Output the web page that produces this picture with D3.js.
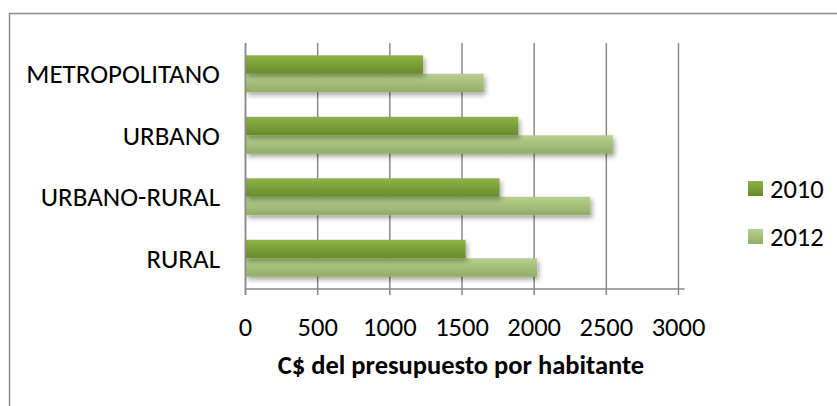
<!DOCTYPE html>
<html>
<head>
<meta charset="utf-8">
<script src="https://cdn.jsdelivr.net/npm/d3@7"></script>
<style>
  body { margin: 0; background: #fff; }
  text { font-family: Carlito, Lato, "Open Sans", sans-serif; fill: #000; }
</style>
</head>
<body>
<div id="chart"></div>
<script>
// Chart data
const categories = ["METROPOLITANO", "URBANO", "URBANO-RURAL", "RURAL"];
const seriesNames = ["2010", "2012"];
const values2010 = [1230, 1890, 1760, 1525];
const values2012 = [1650, 2545, 2390, 2020];
const xTicks = [0, 500, 1000, 1500, 2000, 2500, 3000];
const xTitle = "C$ del presupuesto por habitante";

const width = 837;
const height = 406;
const margin = { top: 43, left: 245.5, right: 159, bottom: 117 };

const svg = d3.select("#chart").append("svg")
    .attr("width", width)
    .attr("height", height);

const defs = svg.append("defs");

// Gradients for the two series
const gradStops = {
    "2010": ["#8db444", "#688a2e"],
    "2012": ["#b7d28c", "#93ab6b"]
};
seriesNames.forEach(name => {
    const lg = defs.append("linearGradient")
        .attr("id", "grad" + name)
        .attr("x1", 0).attr("y1", 0).attr("x2", 0).attr("y2", 1);
    lg.append("stop").attr("offset", "0%").attr("stop-color", gradStops[name][0]);
    lg.append("stop").attr("offset", "100%").attr("stop-color", gradStops[name][1]);
});

const shadow = defs.append("filter").attr("id", "shadow")
    .attr("x", "-5%").attr("y", "-20%").attr("width", "115%").attr("height", "160%");
shadow.append("feGaussianBlur").attr("in", "SourceAlpha").attr("stdDeviation", 2.5);
shadow.append("feOffset").attr("dx", 2).attr("dy", 3).attr("result", "b");
shadow.append("feComponentTransfer").append("feFuncA").attr("type", "linear").attr("slope", 0.35);
const merge = shadow.append("feMerge");
merge.append("feMergeNode");
merge.append("feMergeNode").attr("in", "SourceGraphic");

// Outer chart border
svg.append("rect")
    .attr("x", 9.5).attr("y", 13.5)
    .attr("width", 850).attr("height", 420)
    .attr("fill", "none")
    .attr("stroke", "#8c8c8c")
    .attr("stroke-width", 1.5);

const x = d3.scaleLinear()
    .domain([0, 3000])
    .range([margin.left, width - margin.right + 0.5]);

const y = d3.scaleBand()
    .domain(categories)
    .range([margin.top, height - margin.bottom])
    .paddingInner(0.4)
    .paddingOuter(0.2);

const ySub = d3.scaleBand()
    .domain(seriesNames)
    .range([0, y.bandwidth()]);

const plotBottom = height - margin.bottom;

// Vertical grid lines
svg.append("g")
    .selectAll("line")
    .data(xTicks)
    .join("line")
    .attr("x1", d => x(d)).attr("x2", d => x(d))
    .attr("y1", margin.top).attr("y2", plotBottom + 6)
    .attr("stroke", "#8a8a8a")
    .attr("stroke-width", 1.5);

// Bars
const rows = categories.map((c, i) => ({ cat: c, vals: [values2010[i], values2012[i]] }));
const groups = svg.append("g").selectAll("g")
    .data(rows)
    .join("g")
    .attr("transform", d => `translate(0,${y(d.cat)})`);

groups.selectAll("rect")
    .data(d => d.vals.map((v, j) => ({ name: seriesNames[j], value: v })).reverse())
    .join("rect")
    .attr("x", x(0))
    .attr("y", d => ySub(d.name))
    .attr("width", d => x(d.value) - x(0))
    .attr("height", ySub.bandwidth())
    .attr("fill", d => `url(#grad${d.name})`)
    .attr("filter", "url(#shadow)");

// Axis lines
svg.append("line")
    .attr("x1", x(0)).attr("x2", x(3000) + 6)
    .attr("y1", plotBottom).attr("y2", plotBottom)
    .attr("stroke", "#8a8a8a").attr("stroke-width", 1.5);
svg.append("line")
    .attr("x1", x(0)).attr("x2", x(0))
    .attr("y1", margin.top).attr("y2", plotBottom + 6)
    .attr("stroke", "#8a8a8a").attr("stroke-width", 1.5);

// Category labels
svg.append("g")
    .selectAll("text")
    .data(categories)
    .join("text")
    .attr("x", 220)
    .attr("y", d => y(d) + y.bandwidth() / 2)
    .attr("text-anchor", "end")
    .attr("dominant-baseline", "central")
    .style("font-size", "27px")
    .text(d => d);

// Tick labels
svg.append("g")
    .selectAll("text")
    .data(xTicks)
    .join("text")
    .attr("x", d => x(d))
    .attr("y", 327)
    .attr("text-anchor", "middle")
    .attr("dominant-baseline", "central")
    .style("font-size", "26.5px")
    .text(d => d);

// Axis title
svg.append("text")
    .attr("x", 461)
    .attr("y", 365)
    .attr("text-anchor", "middle")
    .attr("dominant-baseline", "central")
    .style("font-size", "26.5px")
    .style("font-weight", "bold")
    .text(xTitle);

// Legend
const legend = svg.append("g")
    .selectAll("g")
    .data(seriesNames)
    .join("g")
    .attr("transform", (d, i) => `translate(748,${181 + i * 48})`);
legend.append("rect")
    .attr("width", 15).attr("height", 15)
    .attr("fill", d => `url(#grad${d})`);
legend.append("text")
    .attr("x", 22).attr("y", 8)
    .attr("dominant-baseline", "central")
    .style("font-size", "26.5px")
    .text(d => d);
</script>
</body>
</html>
